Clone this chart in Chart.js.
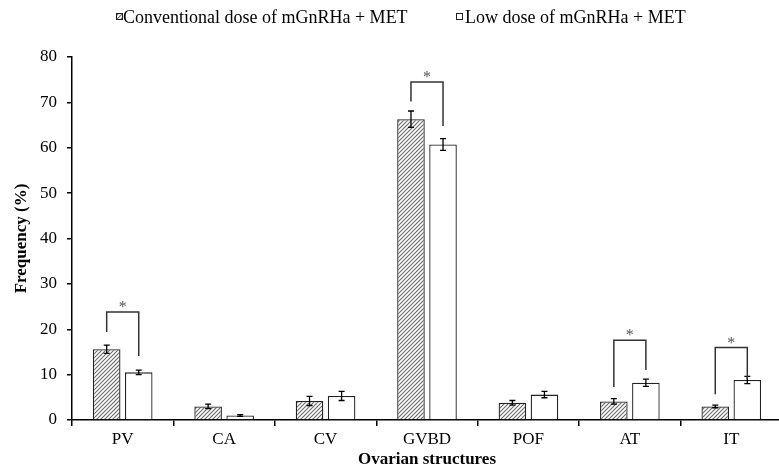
<!DOCTYPE html>
<html><head><meta charset="utf-8">
<script src="https://cdn.jsdelivr.net/npm/chart.js@4.4.1/dist/chart.umd.min.js"></script>
<style>
html,body{margin:0;padding:0;background:#fff;overflow:hidden;}
#wrap{width:782px;height:470px;}
</style></head>
<body><div id="wrap"><canvas id="c" width="782" height="470"></canvas></div>
<script>
const categories = ['PV','CA','CV','GVBD','POF','AT','IT'];
const conventional = [15.6, 3.0, 4.2, 66.3, 3.8, 4.1, 3.0];
const conventionalErr = [0.9, 0.5, 1.0, 1.8, 0.5, 0.6, 0.3];
const lowDose = [10.5, 1.0, 5.3, 60.7, 5.6, 8.2, 8.8];
const lowDoseErr = [0.5, 0.2, 1.0, 1.3, 0.7, 0.8, 0.8];
const seriesNames = ['Conventional dose of mGnRHa + MET', 'Low dose of mGnRHa + MET'];
const yTicks = [0,10,20,30,40,50,60,70,80];
// significance brackets: category index, bracket top, left leg end, right leg end
const sigCategories = [0, 3, 5, 6];
const sigTop = [23.8, 74.5, 17.6, 16.0];
const sigLeftEnd = [19.4, 70.2, 7.3, 5.7];
const sigRightEnd = [14.1, 64.8, 11.0, 9.0];
const sigLabel = '*';

function makeHatch(){
  const p = document.createElement('canvas');
  p.width = 4; p.height = 4;
  const g = p.getContext('2d');
  g.fillStyle = '#ffffff'; g.fillRect(0,0,4,4);
  g.strokeStyle = '#6a6a6a'; g.lineWidth = 1.1;
  g.beginPath();
  g.moveTo(-1,5); g.lineTo(5,-1);
  g.moveTo(-1,1); g.lineTo(1,-1);
  g.moveTo(3,5); g.lineTo(5,3);
  g.stroke();
  return document.getElementById('c').getContext('2d').createPattern(p,'repeat');
}
const hatch = makeHatch();
const serif = "'Liberation Serif','Times New Roman',serif";

const errPlugin = {
  id: 'errbars',
  afterDatasetsDraw(chart){
    const ctx = chart.ctx, y = chart.scales.y;
    const errs = [conventionalErr, lowDoseErr];
    ctx.save();
    ctx.strokeStyle = '#000'; ctx.lineWidth = 1.3;
    chart.data.datasets.forEach((ds, di) => {
      const meta = chart.getDatasetMeta(di);
      meta.data.forEach((bar, i) => {
        const v = ds.data[i], e = errs[di][i];
        const x = bar.x, y1 = y.getPixelForValue(v+e), y2 = y.getPixelForValue(v-e);
        ctx.beginPath();
        ctx.moveTo(x, y1); ctx.lineTo(x, y2);
        ctx.moveTo(x-3, y1); ctx.lineTo(x+3, y1);
        ctx.moveTo(x-3, y2); ctx.lineTo(x+3, y2);
        ctx.stroke();
      });
    });
    // brackets
    const m0 = chart.getDatasetMeta(0), m1 = chart.getDatasetMeta(1);
    ctx.strokeStyle = '#333'; ctx.lineWidth = 1.5;
    ctx.fillStyle = '#555';
    ctx.font = "16px " + serif;
    ctx.textAlign = 'center'; ctx.textBaseline = 'middle';
    sigCategories.forEach((ci, k) => {
      const xl = m0.data[ci].x, xr = m1.data[ci].x;
      const yt = y.getPixelForValue(sigTop[k]);
      ctx.beginPath();
      ctx.moveTo(xl, y.getPixelForValue(sigLeftEnd[k]));
      ctx.lineTo(xl, yt); ctx.lineTo(xr, yt);
      ctx.lineTo(xr, y.getPixelForValue(sigRightEnd[k]));
      ctx.stroke();
      ctx.fillText(sigLabel, (xl+xr)/2, yt-4);
    });
    ctx.restore();
  }
};

const legendPlugin = {
  id: 'topLegend',
  afterDraw(chart){
    const ctx = chart.ctx;
    const ds = chart.data.datasets;
    const items = [{box: 116, text: 123}, {box: 456, text: 465}];
    ctx.save();
    ctx.font = "18px " + serif;
    ctx.textBaseline = 'alphabetic'; ctx.textAlign = 'left';
    ds.forEach((d, i) => {
      const it = items[i];
      ctx.fillStyle = d.backgroundColor;
      ctx.fillRect(it.box, 13, 7, 7);
      ctx.strokeStyle = '#222'; ctx.lineWidth = 1;
      ctx.strokeRect(it.box + 0.5, 13.5, 6, 6);
      ctx.fillStyle = '#000';
      ctx.fillText(d.label, it.text, 23);
    });
    ctx.restore();
  }
};

new Chart(document.getElementById('c'), {
  type: 'bar',
  data: {
    labels: categories,
    datasets: [
      {label: seriesNames[0], data: conventional, backgroundColor: hatch, borderColor: '#222', borderWidth: 1.3},
      {label: seriesNames[1], data: lowDose, backgroundColor: '#ffffff', borderColor: '#222', borderWidth: 1.3}
    ]
  },
  options: {
    responsive: false,
    animation: false,
    categoryPercentage: 0.632,
    barPercentage: 0.86,
    layout: {padding: {left: 0, right: 0, top: 57, bottom: 0}},
    plugins: {
      legend: {display: false},
      tooltip: {enabled: false}
    },
    scales: {
      x: {
        offset: true,
        grid: {display: true, drawOnChartArea: false, offset: true, color: '#000', lineWidth: 1.5, tickLength: 6},
        border: {color: '#000', width: 1.5},
        ticks: {color: '#000', font: {family: serif, size: 17}, padding: 3},
        title: {display: true, text: 'Ovarian structures', color: '#000', font: {family: serif, size: 17, weight: 'bold'}, padding: {top: 0, bottom: 0}},
        afterFit: s => { s.height = 50; }
      },
      y: {
        min: 0, max: 80,
        afterBuildTicks: s => { s.ticks = yTicks.map(v => ({value: v})); },
        grid: {display: true, drawOnChartArea: false, color: '#000', lineWidth: 1.5, tickLength: 5},
        border: {color: '#000', width: 1.5},
        ticks: {color: '#000', font: {family: serif, size: 17}, padding: 10},
        title: {display: true, text: 'Frequency (%)', color: '#000', font: {family: serif, size: 17, weight: 'bold'}, padding: {top: 11, bottom: 0}},
        afterFit: s => { s.width = 72; }
      }
    }
  },
  plugins: [errPlugin, legendPlugin]
});
</script></body></html>
